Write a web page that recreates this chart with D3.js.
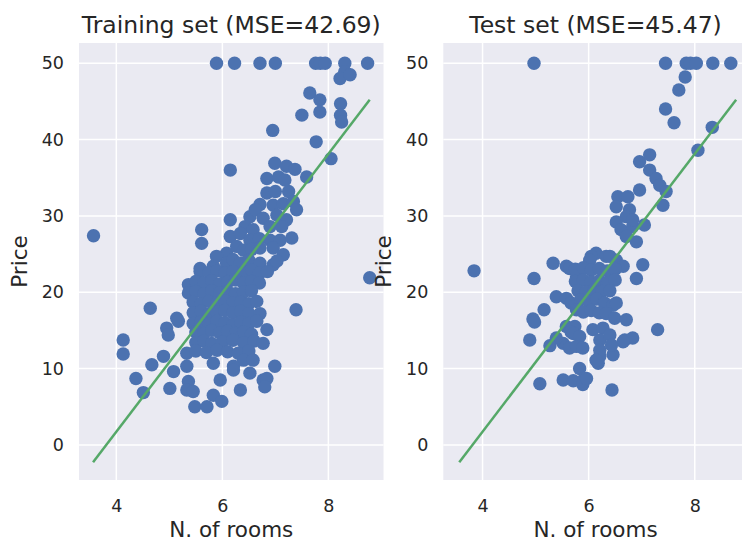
<!DOCTYPE html>
<html>
<head>
<meta charset="utf-8">
<script src="https://cdnjs.cloudflare.com/ajax/libs/d3/7.8.5/d3.min.js"></script>
<style>
  body { margin: 0; background: #fff; }
  svg { display: block; }
  text { font-family: "DejaVu Sans", sans-serif; fill: #262626; }
</style>
</head>
<body>
<div id="chart"></div>
<script>
// rooms vs price
const trainPoints = [
  [5.89,50],[6.23,50],[6.71,50],[7.00,50],[7.76,50],[7.85,50],[7.94,50],[8.31,50],[8.74,50],
  [8.31,48.9],[8.22,48.0],[8.41,48.5],[7.65,46.1],[7.84,45.2],[7.84,43.6],[7.50,43.2],[8.23,44.7],[8.23,43.2],
  [8.25,42.3],[6.95,41.2],[7.77,39.7],[8.05,37.5],[6.15,36.0],
  [6.99,36.9],[7.21,36.5],[7.37,36.1],
  [6.84,34.9],[7.06,35.1],[7.18,34.7],[7.59,35.1],
  [6.84,33.0],[7.00,33.2],[7.25,33.2],
  [6.71,31.5],[6.96,31.4],[7.15,31.6],[7.34,31.9],
  [6.52,29.9],[6.62,30.8],[6.77,29.7],[7.03,30.1],[7.21,29.5],[7.40,30.8],[6.15,29.5],
  [6.43,28.6],[6.58,28.2],[6.90,28.6],[7.12,28.6],[5.61,28.2],[5.61,26.4],
  [6.15,27.3],[6.34,27.7],[6.52,26.8],[6.70,27.0],[6.90,26.8],[7.09,26.8],[7.31,27.1],
  [6.08,25.1],[6.27,26.0],[6.40,25.5],[6.55,25.6],[6.71,25.8],[6.96,25.8],[7.15,24.9],
  [5.83,23.4],[5.89,24.7],[6.08,23.8],[6.20,24.3],[6.34,23.8],[6.50,24.2],[6.71,23.8],[6.96,23.6],[7.03,24.1],[5.58,23.1],
  [5.58,22.7],[5.75,22.6],[5.90,22.8],[6.05,22.5],[6.20,22.7],[6.40,22.6],[6.55,22.9],[6.70,22.5],[6.85,22.7],
  [5.36,21.0],[5.50,21.4],[5.65,21.2],[5.80,21.5],[5.95,21.1],[6.10,21.3],[6.25,21.6],[6.40,21.2],[6.55,21.4],[6.70,21.2],
  [5.36,19.9],[5.50,20.1],[5.65,19.8],[5.80,20.2],[5.95,19.9],[6.10,20.1],[6.25,19.8],[6.40,20.0],[6.55,20.2],
  [5.45,18.7],[5.60,18.5],[5.75,18.8],[5.90,18.6],[6.05,18.9],[6.20,18.6],[6.35,18.7],[6.50,18.5],[6.65,18.8],
  [5.45,17.3],[5.60,17.5],[5.75,17.2],[5.90,17.4],[6.05,17.6],[6.20,17.3],[6.35,17.5],[6.50,17.2],[6.71,17.2],[7.39,17.7],[4.64,17.9],
  [5.14,16.6],[5.17,16.2],[5.45,15.9],[5.60,16.1],[5.75,15.8],[5.90,16.2],[6.05,16.0],[6.20,15.7],[6.35,16.1],[6.50,15.9],[6.65,16.2],
  [4.95,15.3],[4.98,14.4],[5.50,14.8],[5.65,14.6],[5.80,15.0],[5.95,14.7],[6.10,14.9],[6.25,14.6],[6.40,14.8],[6.55,14.5],[6.84,15.1],
  [5.50,13.4],[5.65,13.6],[5.80,13.3],[6.00,13.5],[6.20,13.7],[6.40,13.4],[6.60,13.6],[6.77,13.3],[4.13,13.75],
  [5.33,12.0],[5.50,12.3],[5.70,12.1],[5.90,12.4],[6.10,12.2],[6.30,12.0],[6.50,12.3],[4.13,11.9],[4.89,11.6],
  [5.83,10.7],[6.40,11.1],[6.58,11.1],[5.33,10.3],[6.99,10.3],[4.67,10.5],[6.21,10.3],
  [6.21,9.8],[6.52,9.4],[5.08,9.6],[5.96,8.5],[6.77,8.5],[6.84,8.7],[5.36,8.3],[4.37,8.7],
  [5.01,7.4],[5.33,7.2],[5.45,7.0],[6.34,7.2],[6.80,7.6],[4.51,6.85],[5.83,6.5],[5.99,5.7],[5.48,5.0],[5.71,5.0],
  [3.57,27.4],[8.78,21.9]
];

const testPoints = [
  [4.97,50],[7.45,50],[7.84,50],[7.92,50],[8.03,50],[8.34,50],[8.68,50],
  [7.82,48.2],[7.70,46.5],[7.45,44.0],[7.61,42.2],[8.33,41.6],[8.06,38.6],
  [6.96,37.1],[7.15,38.0],[7.15,36.0],[7.27,34.9],[7.34,34.0],[6.96,33.4],[7.46,33.2],[7.40,31.4],
  [6.55,32.5],[6.74,32.5],[6.52,31.2],[6.77,30.8],[6.71,29.9],
  [6.52,29.2],[6.61,28.2],[6.83,28.6],[7.05,28.8],[6.83,29.5],
  [6.71,27.3],[6.90,26.6],[7.02,23.6],[6.90,21.8],
  [6.14,25.1],[6.33,24.7],[6.05,24.7],[6.52,24.2],[6.65,23.4],[6.02,24.2],[6.40,24.7],
  [5.33,23.8],[5.58,23.4],[5.64,23.1],[5.77,22.0],[3.84,22.8],[4.97,21.8],
  [5.75,23.0],[5.90,23.2],[6.05,22.9],[6.20,23.1],[6.35,22.8],[6.50,23.0],
  [5.75,21.4],[5.90,21.6],[6.05,21.3],[6.20,21.5],[6.35,21.2],[6.50,21.6],
  [5.80,20.2],[5.95,20.0],[6.10,20.3],[6.25,20.1],[6.40,20.2],
  [5.39,19.4],[5.58,19.2],[5.67,18.6],[5.85,19.0],[6.00,18.8],[6.15,19.1],[6.30,18.6],[6.46,18.3],[6.52,18.6],
  [5.16,17.7],[5.77,17.7],[5.90,17.4],[6.05,17.6],[6.20,17.3],[6.33,17.2],
  [4.95,16.5],[4.98,16.1],[6.49,16.6],[6.71,16.4],
  [5.58,15.5],[5.74,15.5],[5.67,14.8],[5.71,14.6],[5.83,14.2],[6.08,15.1],[6.27,15.3],[6.21,13.75],[6.40,14.4],
  [6.68,13.75],[6.83,14.0],[6.65,13.5],[7.30,15.1],
  [5.52,13.3],[5.39,14.0],[5.64,12.7],[5.77,12.9],[5.89,12.7],[4.89,13.75],[5.27,13.0],
  [6.46,11.8],[6.21,11.6],[6.18,10.7],[6.21,12.4],[6.43,13.1],[6.14,11.1],
  [5.83,10.0],[5.52,8.5],[5.71,8.4],[5.92,8.7],[5.89,7.9],[5.08,8.0],[6.44,7.2],[5.96,8.7]
];

// fitted regression line (same in both panels)
const lineRooms = [3.561, 8.78];
const linePrice = [-2.27, 45.23];

const xTicks = [4, 6, 8];
const yTicks = [0, 10, 20, 30, 40, 50];
const titles = ['Training set (MSE=42.69)', 'Test set (MSE=45.47)'];

const W = 742, H = 542;
const plotW = 304.5;
const plotTop = 43, plotBottom = 480;

const svg = d3.select('#chart').append('svg').attr('width', W).attr('height', H);

const yScale = d3.scaleLinear().domain([-4.6, 52.65]).range([plotBottom, plotTop]);

const panels = [
  {left: 79, domain: [3.296, 9.04], points: trainPoints, title: titles[0]},
  {left: 443.3, domain: [3.26, 9.0], points: testPoints, title: titles[1]}
];

panels.forEach(p => {
  const xScale = d3.scaleLinear().domain(p.domain).range([p.left, p.left + plotW]);
  const g = svg.append('g');

  g.append('rect')
    .attr('x', p.left).attr('y', plotTop)
    .attr('width', plotW).attr('height', plotBottom - plotTop)
    .attr('fill', '#EAEAF2');

  // grid
  g.append('g').selectAll('line').data(xTicks).join('line')
    .attr('x1', d => xScale(d)).attr('x2', d => xScale(d))
    .attr('y1', plotTop).attr('y2', plotBottom)
    .attr('stroke', '#fff').attr('stroke-width', 1.5);
  g.append('g').selectAll('line').data(yTicks).join('line')
    .attr('x1', p.left).attr('x2', p.left + plotW)
    .attr('y1', d => yScale(d)).attr('y2', d => yScale(d))
    .attr('stroke', '#fff').attr('stroke-width', 1.5);

  // axes (seaborn darkgrid: no tick marks, no domain)
  const xAxis = g.append('g')
    .attr('transform', `translate(0,${plotBottom})`)
    .call(d3.axisBottom(xScale).tickValues(xTicks).tickFormat(d3.format('d')).tickSize(0).tickPadding(20));
  xAxis.select('.domain').remove();
  xAxis.selectAll('text').attr('font-size', 17.5).attr('fill', '#262626')
    .attr('font-family', '"DejaVu Sans", sans-serif');

  const yAxis = g.append('g')
    .attr('transform', `translate(${p.left},0)`)
    .call(d3.axisLeft(yScale).tickValues(yTicks).tickFormat(d3.format('d')).tickSize(0).tickPadding(15));
  yAxis.select('.domain').remove();
  yAxis.selectAll('text').attr('font-size', 17.5).attr('fill', '#262626')
    .attr('font-family', '"DejaVu Sans", sans-serif');

  // points
  g.append('g').selectAll('circle').data(p.points).join('circle')
    .attr('cx', d => xScale(d[0]))
    .attr('cy', d => yScale(d[1]))
    .attr('r', 6.7)
    .attr('fill', '#4C72B0');

  // regression line
  g.append('line')
    .attr('x1', xScale(lineRooms[0])).attr('y1', yScale(linePrice[0]))
    .attr('x2', xScale(lineRooms[1])).attr('y2', yScale(linePrice[1]))
    .attr('stroke', '#55A868').attr('stroke-width', 2.5);

  // labels
  g.append('text')
    .attr('x', p.left + plotW / 2).attr('y', 33)
    .attr('text-anchor', 'middle').attr('font-size', 23.5)
    .text(p.title);

  g.append('text')
    .attr('x', p.left + plotW / 2).attr('y', 536.5)
    .attr('text-anchor', 'middle').attr('font-size', 21.5)
    .text('N. of rooms');

  g.append('text')
    .attr('transform', `translate(${p.left - 52},${(plotTop + plotBottom) / 2}) rotate(-90)`)
    .attr('text-anchor', 'middle').attr('font-size', 21.5)
    .text('Price');
});
</script>
</body>
</html>
